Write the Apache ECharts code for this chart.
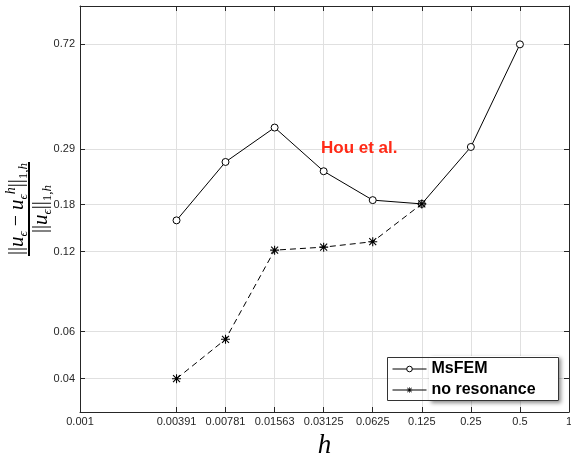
<!DOCTYPE html>
<html><head><meta charset="utf-8">
<script src="https://cdn.jsdelivr.net/npm/echarts@6/dist/echarts.min.js"></script>
<style>html,body{margin:0;padding:0;background:#fff}#c{width:571px;height:455px}</style>
</head><body><div id="c"></div><script>
// h values (x), series values (y)
const hValues = [0.00391, 0.00781, 0.01563, 0.03125, 0.0625, 0.125, 0.25, 0.5];
const msfemValues = [0.157, 0.260, 0.350, 0.240, 0.187, 0.181, 0.296, 0.718];
const noResValues = [0.040, 0.0562, 0.1214, 0.1246, 0.1306, 0.181];
const xTickValues = [0.001, 0.00391, 0.00781, 0.01563, 0.03125, 0.0625, 0.125, 0.25, 0.5, 1];
const xTickLabels = ['0.001', '0.00391', '0.00781', '0.01563', '0.03125', '0.0625', '0.125', '0.25', '0.5', '1'];
const yTickValues = [0.04, 0.06, 0.12, 0.18, 0.29, 0.72];
const yTickLabels = ['0.04', '0.06', '0.12', '0.18', '0.29', '0.72'];
const seriesNames = ['MsFEM', 'no resonance'];

function lookup(vals, labels, v) {
  for (let i = 0; i < vals.length; i++) {
    if (Math.abs(Math.log10(vals[i]) - Math.log10(v)) < 1e-4) return labels[i];
  }
  return String(v);
}

const AX = '#262626';
const starPath = 'path://M8.8 0H11.2V20H8.8Z M0 8.8H20V11.2H0Z M1.4 3.1L3.1 1.4L18.6 16.9L16.9 18.6Z M16.9 1.4L18.6 3.1L3.1 18.6L1.4 16.9Z';

const chart = echarts.init(document.getElementById('c'), null, {renderer: 'canvas'});

const baseX = {type: 'log', logBase: 10, min: 0.001, max: 1, gridIndex: 0};
const baseY = {type: 'log', logBase: 10, min: 0.03, max: 1, gridIndex: 0};

const SF = 'Liberation Serif, DejaVu Serif';
const serifR = {fontFamily: SF, fontSize: 20, lineHeight: 26, fill: '#000', verticalAlign: 'middle'};
const serifI = {fontFamily: SF, fontStyle: 'italic', fontSize: 21, lineHeight: 26, fill: '#000', verticalAlign: 'middle'};
const subS = {fontFamily: SF, fontStyle: 'italic', fontSize: 13, lineHeight: 12, fill: '#000', verticalAlign: 'bottom'};
const supS = {fontFamily: SF, fontStyle: 'italic', fontSize: 14, lineHeight: 12, fill: '#000', verticalAlign: 'top'};
const subR = {fontFamily: SF, fontSize: 13, lineHeight: 12, fill: '#000', verticalAlign: 'bottom'};
const richDef = {n: serifR, i: serifI, s: subS, p: supS, r: subR};

const option = {
  animation: false,
  backgroundColor: '#fff',
  grid: {left: 80, right: 2, top: 6, bottom: 43, outerBoundsMode: 'none', containLabel: false},
  xAxis: [
    Object.assign({}, baseX, {
      position: 'bottom',
      name: 'h',
      nameLocation: 'middle',
      nameGap: 20,
      nameTextStyle: {fontFamily: SF, fontStyle: 'italic', fontSize: 27, color: '#000', lineHeight: 27},
      axisLine: {show: true, onZero: false, lineStyle: {color: AX, width: 1}},
      axisTick: {show: true, inside: true, length: 5, lineStyle: {color: AX}, customValues: xTickValues},
      axisLabel: {show: true, margin: 4, fontFamily: 'Liberation Sans, Arial', fontSize: 11, color: AX,
        customValues: xTickValues, hideOverlap: false,
        formatter: v => lookup(xTickValues, xTickLabels, v)},
      splitLine: {show: true, lineStyle: {color: '#e0e0e0', width: 1}},
      minorTick: {show: false}, minorSplitLine: {show: false}
    }),
    Object.assign({}, baseX, {
      position: 'top',
      axisLine: {show: true, onZero: false, lineStyle: {color: AX, width: 1}},
      axisTick: {show: true, inside: true, length: 5, lineStyle: {color: AX}, customValues: xTickValues},
      axisLabel: {show: false},
      splitLine: {show: false}
    })
  ],
  yAxis: [
    Object.assign({}, baseY, {
      position: 'left',
      axisLine: {show: true, onZero: false, lineStyle: {color: AX, width: 1}},
      axisTick: {show: true, inside: true, length: 5, lineStyle: {color: AX}, customValues: yTickValues},
      axisLabel: {show: true, margin: 5, fontFamily: 'Liberation Sans, Arial', fontSize: 11, color: AX,
        customValues: yTickValues,
        formatter: v => lookup(yTickValues, yTickLabels, v)},
      splitLine: {show: true, lineStyle: {color: '#e0e0e0', width: 1}}
    }),
    Object.assign({}, baseY, {
      position: 'right',
      axisLine: {show: true, onZero: false, lineStyle: {color: AX, width: 1}},
      axisTick: {show: true, inside: true, length: 5, lineStyle: {color: AX}, customValues: yTickValues},
      axisLabel: {show: false},
      splitLine: {show: false}
    })
  ],
  legend: {
    orient: 'vertical',
    left: 392,
    top: 361,
    padding: 0,
    itemGap: 5,
    itemWidth: 34,
    itemHeight: 7,
    z: 10,
    lineStyle: {width: 1, type: 'solid', color: '#000'},
    itemStyle: {borderWidth: 1},
    textStyle: {fontFamily: 'Liberation Sans, Arial', fontWeight: 'bold', fontSize: 16, lineHeight: 16, color: '#000'},
    data: seriesNames
  },
  series: [
    {
      name: seriesNames[0],
      type: 'line',
      xAxisIndex: 0, yAxisIndex: 0,
      data: hValues.map((h, i) => [h, msfemValues[i]]),
      symbol: 'circle',
      symbolSize: 7,
      showAllSymbol: true,
      lineStyle: {color: '#000', width: 1},
      itemStyle: {color: '#fff', borderColor: '#000', borderWidth: 1},
      z: 3
    },
    {
      name: seriesNames[1],
      type: 'line',
      xAxisIndex: 0, yAxisIndex: 0,
      data: hValues.slice(0, noResValues.length).map((h, i) => [h, noResValues[i]]),
      symbol: starPath,
      symbolSize: 9,
      showAllSymbol: true,
      lineStyle: {color: '#000', width: 1, type: [6, 4]},
      itemStyle: {color: '#000'},
      z: 4
    }
  ],
  graphic: [
    {
      type: 'group', x: 29, y: 209, rotation: Math.PI / 2,
      children: [
        {type: 'text', x: 0, y: -12, style: {
          text: '{n|||}{i|u}{s|ϵ}{n| − }{i|u}{s|ϵ}{p|h}{n|||}{r|1,}{s|h}',
          rich: richDef, align: 'center', verticalAlign: 'middle'}},
        {type: 'rect', shape: {x: -47, y: -1, width: 94, height: 2}, style: {fill: '#000'}},
        {type: 'text', x: 0, y: 12, style: {
          text: '{n|||}{i|u}{s|ϵ}{n|||}{r|1,}{s|h}',
          rich: richDef, align: 'center', verticalAlign: 'middle'}}
      ]
    },
    {
      type: 'text', left: 321, top: 140, z: 10,
      style: {text: 'Hou et al.', fill: '#ff2a17', font: 'bold 17px "Liberation Sans", Arial'}
    },
    {
      type: 'rect', z: 5, shape: {x: 429, y: 356, width: 130, height: 45},
      style: {fill: '#fff', shadowBlur: 4, shadowOffsetX: 2, shadowOffsetY: 2, shadowColor: 'rgba(0,0,0,0.45)'}
    },
    {
      type: 'rect', z: 6, shape: {x: 387.5, y: 357.5, width: 171, height: 43},
      style: {fill: 'none', stroke: '#333', lineWidth: 1}
    }
  ]
};
chart.setOption(option);
</script></body></html>
